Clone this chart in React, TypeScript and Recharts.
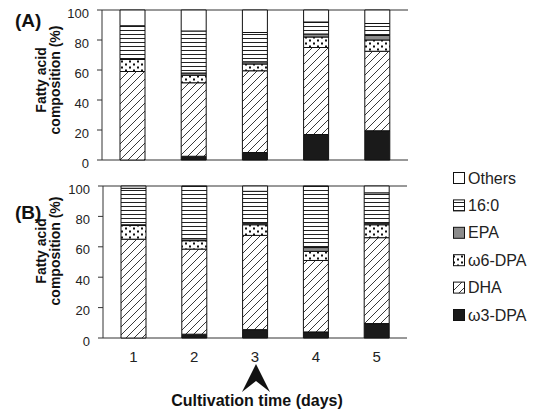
import React from 'react';
import { BarChart, Bar, XAxis, YAxis, CartesianGrid } from 'recharts';

const days = ['1', '2', '3', '4', '5'];
const yTicks = [0, 20, 40, 60, 80, 100];

// Panel (A) composition per day, %
const aW3dpa = [0, 2.5, 5, 17, 19.5];
const aDha = [59, 49, 54.5, 58, 53];
const aW6dpa = [8, 5, 4.5, 7, 7.5];
const aEpa = [0.5, 1.5, 1.5, 2, 3];
const aC16 = [22, 28, 19.5, 8, 8];
const aOthers = [10.5, 14, 15, 8, 9];

// Panel (B) composition per day, %
const bW3dpa = [0, 2.5, 5.5, 4, 9.5];
const bDha = [65, 56, 62, 47, 56.5];
const bW6dpa = [9, 5.5, 7, 6, 8.5];
const bEpa = [0.5, 0.5, 1, 2.5, 1];
const bC16 = [24, 35.5, 21, 40.5, 20];
const bOthers = [1.5, 0, 3.5, 0, 4.5];

const seriesKeys = ['w3dpa', 'dha', 'w6dpa', 'epa', 'c16', 'others'];
const seriesNames = ['ω3-DPA', 'DHA', 'ω6-DPA', 'EPA', '16:0', 'Others'];
const seriesFills = [
  '#1a1a1a',
  'url(#pDiag)',
  'url(#pDots)',
  '#8c8c8c',
  'url(#pLines)',
  '#ffffff',
];

const buildData = (cols: number[][]) =>
  days.map((d, i) => {
    const row: Record<string, string | number> = { day: d };
    seriesKeys.forEach((k, j) => {
      row[k] = cols[j][i];
    });
    return row;
  });

const dataA = buildData([aW3dpa, aDha, aW6dpa, aEpa, aC16, aOthers]);
const dataB = buildData([bW3dpa, bDha, bW6dpa, bEpa, bC16, bOthers]);

const FONT = '"Liberation Sans", Arial, sans-serif';

const Panel = ({
  data,
  height,
  margin,
  showX,
}: {
  data: Record<string, string | number>[];
  height: number;
  margin: { top: number; right: number; bottom: number; left: number };
  showX: boolean;
}) => (
  <BarChart width={430} height={height} data={data} margin={margin} barSize={25}>
    <CartesianGrid vertical={false} stroke="#333" strokeWidth={1} />
    <XAxis
      dataKey="day"
      hide={!showX}
      axisLine={false}
      tickLine={false}
      tickSize={6}
      tickMargin={7}
      height={24}
      tick={{ fontSize: 15, fill: '#222', fontFamily: FONT }}
    />
    <YAxis
      yAxisId="l"
      domain={[0, 100]}
      ticks={yTicks}
      width={40}
      tickSize={5}
      tickMargin={8}
      axisLine={{ stroke: '#333' }}
      tickLine={{ stroke: '#333' }}
      tick={{ fontSize: 13, fill: '#222', fontFamily: FONT, dy: 3 }}
    />
    <YAxis
      yAxisId="r"
      orientation="right"
      domain={[0, 100]}
      width={0}
      tick={false}
      tickLine={false}
      axisLine={{ stroke: '#333' }}
    />
    {seriesKeys.map((k, j) => (
      <Bar
        key={k}
        yAxisId="l"
        dataKey={k}
        name={seriesNames[j]}
        stackId="s"
        fill={seriesFills[j]}
        stroke="#111"
        strokeWidth={1}
        isAnimationActive={false}
      />
    ))}
  </BarChart>
);

const legendOrder = [5, 4, 3, 2, 1, 0];

const App = () => {
  return (
    <div
      style={{
        position: 'absolute',
        left: 0,
        top: 0,
        width: 538,
        height: 414,
        background: '#fff',
        fontFamily: FONT,
      }}
    >
      <svg
        width={538}
        height={414}
        style={{ position: 'absolute', left: 0, top: 0 }}
      >
        <defs>
          <pattern id="pLines" patternUnits="userSpaceOnUse" width="4" height="4">
            <rect width="4" height="4" fill="#fff" />
            <line x1="0" y1="2.5" x2="4" y2="2.5" stroke="#222" strokeWidth="1" />
          </pattern>
          <pattern id="pDiag" patternUnits="userSpaceOnUse" width="8" height="8">
            <rect width="8" height="8" fill="#fff" />
            <path d="M0,8 L8,0 M-2,2 L2,-2 M6,10 L10,6" stroke="#222" strokeWidth="0.9" />
          </pattern>
          <pattern id="pDots" patternUnits="userSpaceOnUse" width="8" height="6">
            <rect width="8" height="6" fill="#fff" />
            <rect x="1" y="0.5" width="2" height="2" fill="#111" />
            <rect x="5" y="3.5" width="2" height="2" fill="#111" />
          </pattern>
        </defs>

        {/* panel labels */}
        <text x={15} y={27} fontSize={19} fontWeight="bold" fill="#111" fontFamily={FONT}>
          (A)
        </text>
        <text x={15} y={219} fontSize={19} fontWeight="bold" fill="#111" fontFamily={FONT}>
          (B)
        </text>

        {/* y axis titles */}
        {[80, 251].map((cy) => (
          <g key={cy} fontSize={14} fontWeight="bold" fill="#111" fontFamily={FONT} textAnchor="middle">
            <text transform={`translate(46,${cy}) rotate(-90)`}>Fatty acid</text>
            <text transform={`translate(60,${cy}) rotate(-90)`}>composition (%)</text>
          </g>
        ))}

        {/* arrow under day 3 */}
        <polygon points="256,364 270,392 256,381 242,392" fill="#111" />
        <text
          x={257}
          y={406}
          fontSize={16}
          fontWeight="bold"
          textAnchor="middle"
          fill="#111"
          fontFamily={FONT}
        >
          Cultivation time (days)
        </text>

        {/* legend */}
        {legendOrder.map((j, i) => {
          const cy = 178 + i * 27.4;
          return (
            <g key={seriesKeys[j]}>
              <rect
                x={453.5}
                y={cy - 5.5}
                width={11}
                height={11}
                fill={seriesFills[j]}
                stroke="#111"
                strokeWidth={1}
              />
              <text x={468} y={cy + 5.5} fontSize={16} fill="#222" fontFamily={FONT}>
                {seriesNames[j]}
              </text>
            </g>
          );
        })}
      </svg>

      <div style={{ position: 'absolute', left: 0, top: 0 }}>
        <Panel
          data={dataA}
          height={175}
          margin={{ top: 10, right: 22, bottom: 15, left: 62 }}
          showX={false}
        />
      </div>
      <div style={{ position: 'absolute', left: 0, top: 176 }}>
        <Panel
          data={dataB}
          height={200}
          margin={{ top: 10, right: 23, bottom: 14, left: 63 }}
          showX={true}
        />
      </div>
    </div>
  );
};

export default App;
